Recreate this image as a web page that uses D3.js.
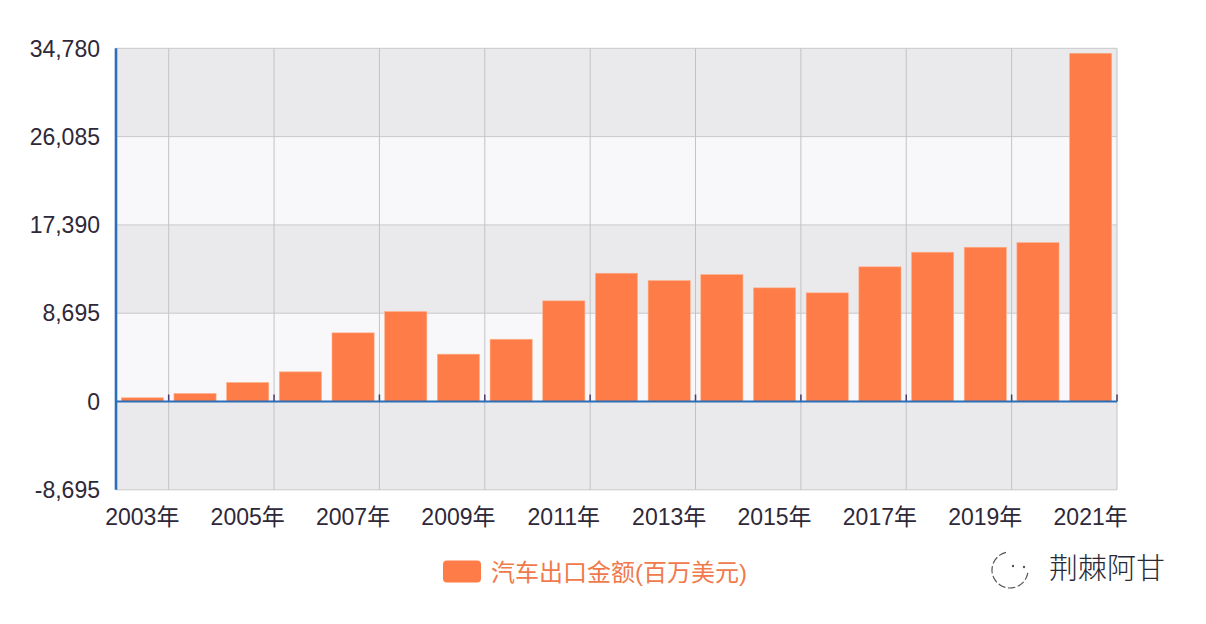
<!DOCTYPE html>
<html><head><meta charset="utf-8">
<script src="https://cdn.jsdelivr.net/npm/d3@7"></script>
<style>
html,body{margin:0;padding:0;background:#fff;}
svg{display:block;}
</style></head>
<body>
<svg id="chart" width="1206" height="624"></svg>
<script>
const years = ["2003","2004","2005","2006","2007","2008","2009","2010","2011","2012","2013","2014","2015","2016","2017","2018","2019","2020","2021"];
const exportValues = [365,790,1870,2920,6760,8860,4660,6130,9910,12630,11910,12500,11190,10700,13260,14700,15190,15650,34290];
const yTicks = [-8695,0,8695,17390,26085,34780];
const yTickLabels = ["-8,695","0","8,695","17,390","26,085","34,780"];
const seriesName = "汽车出口金额(百万美元)";
const watermark = "荆棘阿甘";

const svg = d3.select("#chart");
const L = 116, R = 1117, T = 48.3, B = 489.8;
const x = d3.scaleBand().domain(years).range([L, R]).paddingInner(0.2).paddingOuter(0.1);
const y = d3.scaleLinear().domain([-8695, 34780]).range([B, T]);
const step = x.step();
const bandStart = d => x(d) - step * 0.1;

// stripes
const g = svg.append("g");
for (let i = 0; i < yTicks.length - 1; i++) {
  g.append("rect")
    .attr("x", L).attr("width", R - L)
    .attr("y", y(yTicks[i + 1])).attr("height", y(yTicks[i]) - y(yTicks[i + 1]))
    .attr("fill", (i % 2 === 0) ? "#eaeaec" : "#f8f8fa");
}
// horizontal grid
g.selectAll("line.hg").data(yTicks).join("line")
  .attr("x1", L).attr("x2", R).attr("y1", d => y(d)).attr("y2", d => y(d))
  .attr("stroke", "#c9c9cc").attr("stroke-width", 1);
// vertical grid at every second band boundary
const vIdx = d3.range(1, years.length + 1, 2);
g.selectAll("line.vg").data(vIdx).join("line")
  .attr("x1", i => L + i * step).attr("x2", i => L + i * step)
  .attr("y1", T).attr("y2", B)
  .attr("stroke", "#c3c3c7").attr("stroke-width", 1);

// bars
svg.append("g").selectAll("rect").data(years).join("rect")
  .attr("x", d => x(d))
  .attr("width", x.bandwidth())
  .attr("y", (d, i) => y(exportValues[i]))
  .attr("height", (d, i) => y(0) - y(exportValues[i]))
  .attr("fill", "#fe7c47")
  .attr("stroke", "#ffb08a").attr("stroke-width", 0.6);

// small ticks at zero line
svg.append("g").selectAll("line").data(vIdx).join("line")
  .attr("x1", i => L + i * step).attr("x2", i => L + i * step)
  .attr("y1", y(0) - 7).attr("y2", y(0))
  .attr("stroke", "#4b3a6b").attr("stroke-width", 1.5);

// zero axis line
svg.append("line").attr("x1", L).attr("x2", R).attr("y1", y(0)).attr("y2", y(0))
  .attr("stroke", "#2a6fb8").attr("stroke-width", 2.2);
// left axis line
svg.append("line").attr("x1", L).attr("x2", L).attr("y1", T).attr("y2", B)
  .attr("stroke", "#2a6fb8").attr("stroke-width", 2.6);

// y labels
svg.append("g").selectAll("text").data(yTicks).join("text")
  .attr("x", 100).attr("y", d => y(d)).attr("dy", "0.36em")
  .attr("text-anchor", "end")
  .attr("font-family", "Liberation Sans, Arial, sans-serif")
  .attr("font-size", 23).attr("fill", "#2e2838")
  .text((d, i) => yTickLabels[i]);

// x labels
const xLabels = years.filter((d, i) => i % 2 === 0);
svg.append("g").selectAll("text").data(xLabels).join("text")
  .attr("x", d => x(d) + x.bandwidth() / 2).attr("y", 525)
  .attr("text-anchor", "middle")
  .attr("font-family", "Liberation Sans, Arial, 'Noto Sans CJK SC', sans-serif")
  .attr("font-size", 23).attr("fill", "#2e2838")
  .text(d => d + "年");

// legend
svg.append("rect").attr("x", 443).attr("y", 560.5).attr("width", 38).attr("height", 22)
  .attr("rx", 4).attr("fill", "#fe7c47");
svg.append("text").attr("x", 491).attr("y", 572).attr("dy", "0.36em")
  .attr("font-family", "Liberation Sans, Arial, 'Noto Sans CJK SC', sans-serif")
  .attr("font-size", 24).attr("fill", "#f07a4c")
  .text(seriesName);

// watermark
const wm = svg.append("g");
wm.append("path")
  .attr("d", d3.arc()({innerRadius: 18, outerRadius: 18, startAngle: Math.PI * 0.55, endAngle: Math.PI * 1.95}))
  .attr("transform", "translate(1010,570)")
  .attr("fill", "none").attr("stroke", "#555").attr("stroke-width", 1.2).attr("stroke-dasharray", "6,4");
wm.append("circle").attr("cx", 1013).attr("cy", 566).attr("r", 1.2).attr("fill", "#555");
wm.append("circle").attr("cx", 1024).attr("cy", 567).attr("r", 1.2).attr("fill", "#555");
wm.append("text").attr("x", 1049).attr("y", 569).attr("dy", "0.36em")
  .attr("font-family", "'Noto Sans CJK SC', sans-serif").attr("font-size", 29)
  .attr("fill", "#2a2a35").attr("font-weight", 300)
  .text(watermark);
</script>
</body></html>
